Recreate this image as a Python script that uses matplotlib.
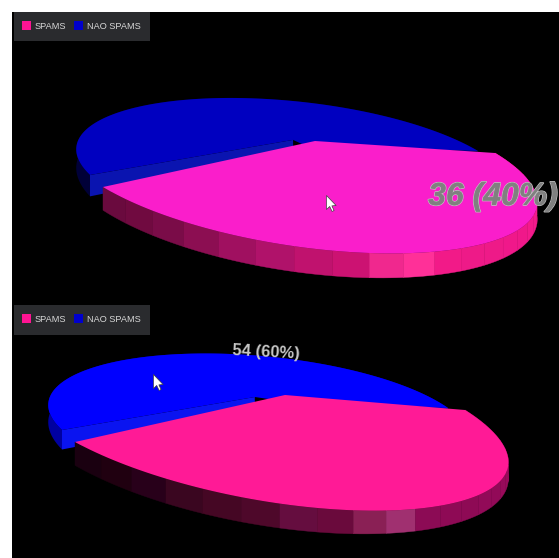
import numpy as np
import matplotlib
matplotlib.use("Agg")
import matplotlib.pyplot as plt
from matplotlib.patches import Polygon, Rectangle
from matplotlib.path import Path
import matplotlib.patheffects as pe

# Slice data
categories = ["SPAMS", "NAO SPAMS"]
spam_values = [36, 54]

# Shading of the pink rim, one entry per facet (left to right)
top_rim_shades = ["#6a0a3e", "#700a40", "#7a0c48", "#8c0e52", "#a01060", "#b0126a", "#c0126e", "#cc1272",
                  "#f0288e", "#ff3098", "#f21a88", "#ee1a88", "#ee1a88", "#f0188a", "#f0188a", "#f41a8c",
                  "#f41a8c", "#f81c8e", "#f81c8e", "#fa1c90", "#fa1c90", "#fc1c92", "#fc1c92", "#fc1c92"]
bottom_rim_shades = ["#1a0010", "#200010", "#28001a", "#3a0620", "#450724", "#4e082a", "#650d3f", "#6a0a3c",
                     "#8a2055", "#a03070", "#8c0b55", "#8e0a55", "#8e0a55", "#920a58", "#920a58", "#980a5a",
                     "#980a5a", "#a00a60", "#a00a60", "#a80c66", "#a80c66", "#ac0c68", "#ac0c68", "#ac0c68"]

RIM_FACETS = 24

# Camera of each slice: tip, left end, right end and one rim point on the canvas,
# the disk angle of the left end and the disk angle of that rim point
TOP_PINK_CAM = ((315, 141), (103, 187), (495, 153), (422.8, 252.5), -13.8, 43.8)
TOP_BLUE_CAM = ((293.1, 139.9), (90, 175), (478, 151), (238.0, 98.0), -84.8, 165.2)
BOT_PINK_CAM = ((285, 395), (75, 442), (465, 410), (404.2, 509.8), -18.0, 39.6)
BOT_BLUE_CAM = ((254.8, 397.0), (62, 430), (448, 408), (204.0, 353.5), -90.1, 159.9)


def make_camera(center, left, right, extra, start, extra_angle):
    # Homography from the unit disk of the pie to canvas pixels
    span = 360 * spam_values[0] / sum(spam_values)
    a, b, c = np.radians([start, start + span, extra_angle])
    src = [(0, 0), (np.sin(a), np.cos(a)), (np.sin(b), np.cos(b)), (np.sin(c), np.cos(c))]
    dst = [center, left, right, extra]
    A, B = [], []
    for (u, v), (x, y) in zip(src, dst):
        A.append([u, v, 1, 0, 0, 0, -u * x, -v * x])
        A.append([0, 0, 0, u, v, 1, -u * y, -v * y])
        B += [x, y]
    return np.append(np.linalg.solve(np.array(A, float), np.array(B, float)), 1).reshape(3, 3)


def project(H, u, v, thick=0.0):
    u, v = np.asarray(u, float), np.asarray(v, float)
    w = H[2, 0] * u + H[2, 1] * v + H[2, 2]
    x = (H[0, 0] * u + H[0, 1] * v + H[0, 2]) / w
    y = (H[1, 0] * u + H[1, 1] * v + H[1, 2] + thick) / w
    return np.column_stack([x, y])


def arc(t0, t1, n=80):
    t = np.radians(np.linspace(t0, t1, n))
    return np.sin(t), np.cos(t)


def draw_pie(ax, pink_cam, blue_cam, pink, blue, blue_side, blue_cut, shades, thick_pink, thick_blue):
    H_pink, H_blue = make_camera(*pink_cam), make_camera(*blue_cam)
    span = 360 * spam_values[0] / sum(spam_values)

    # blue rim and cut face
    s = blue_cam[4]
    u, v = arc(s + span, s + 360, 120)
    rim = np.vstack([project(H_blue, u, v), project(H_blue, u, v, thick_blue)[::-1]])
    ax.add_patch(Polygon(rim, closed=True, fc=blue_side, ec="none", zorder=2))
    cu, cv = np.array([0, u[-1]]), np.array([0, v[-1]])
    cut = np.vstack([project(H_blue, cu, cv), project(H_blue, cu, cv, thick_blue)[::-1]])
    ax.add_patch(Polygon(cut, closed=True, fc=blue_cut, ec="none", zorder=3))

    # blue top, closed through a point under the pink slice so no gap shows at the tip
    top = np.vstack([project(H_blue, u, v), project(H_blue, [0], [0]), project(H_pink, [0], [0.1])])
    ax.add_patch(Polygon(top, closed=True, fc=blue, ec="none", zorder=4))

    # pink rim, facet by facet
    s = pink_cam[4]
    edges = np.linspace(s, s + span, RIM_FACETS + 1)
    for i in range(RIM_FACETS):
        fu, fv = arc(edges[i], edges[i + 1], 6)
        facet = np.vstack([project(H_pink, fu, fv), project(H_pink, fu, fv, thick_pink)[::-1]])
        ax.add_patch(Polygon(facet, closed=True, fc=shades[i], ec=shades[i], lw=0.3, zorder=5))

    # pink top
    u, v = arc(s, s + span, 120)
    top = np.vstack([project(H_pink, [0], [0]), project(H_pink, u, v)])
    ax.add_patch(Polygon(top, closed=True, fc=pink, ec="none", zorder=6))


def draw_legend(ax, y0, h):
    ax.add_patch(Rectangle((14, y0), 136, h, fc="#2a2b2e", ec="none", zorder=8))
    ax.add_patch(Rectangle((22, y0 + 9), 8.5, 8.5, fc="#ff1493", ec="none", zorder=9))
    ax.add_patch(Rectangle((74, y0 + 9), 8.5, 8.5, fc="#0000cd", ec="none", zorder=9))
    ax.text(35, y0 + 14.5, categories[0], color="#d8d8d8", fontsize=6.6, family="Liberation Sans",
            va="center", zorder=9)
    ax.text(87, y0 + 14.5, categories[1], color="#d8d8d8", fontsize=6.6, family="Liberation Sans",
            va="center", zorder=9)


def label_for(i):
    return f"{spam_values[i]} ({round(100 * spam_values[i] / sum(spam_values))}%)"


fig = plt.figure(figsize=(5.59, 5.58), dpi=100, facecolor="white")
ax = fig.add_axes([0, 0, 1, 1])
ax.set_xlim(0, 559)
ax.set_ylim(558, 0)
ax.axis("off")
ax.add_patch(Rectangle((12, 12), 547, 546, fc="black", ec="none", zorder=0))

# upper pie (pink slice hovered)
draw_pie(ax, TOP_PINK_CAM, TOP_BLUE_CAM, "#fa1ecb", "#0000c0", "#000038", "#0a14b0", top_rim_shades, 15, 15)

# lower pie (blue slice hovered)
draw_pie(ax, BOT_PINK_CAM, BOT_BLUE_CAM, "#ff1a96", "#0000ff", "#0000a0", "#0a14f0", bottom_rim_shades, 15, 15)

draw_legend(ax, 12, 29)
draw_legend(ax, 305, 30)

# hover labels
ax.text(493, 197, label_for(0), fontsize=23, style="italic", weight="bold", family="Liberation Sans",
        color="#808080", ha="center", va="center", zorder=10,
        path_effects=[pe.withStroke(linewidth=1.2, foreground="#c0c0c0"),
                      pe.Normal()])
ax.text(266, 352, label_for(1), fontsize=12, weight="bold", family="Liberation Sans", color="#c8c8c8",
        ha="center", va="center", rotation=-3, zorder=10)

# mouse pointers
pointer = Path(np.array([(0, 0), (0, 14), (3.2, 11), (5.6, 16), (7.6, 15), (5.4, 10.4), (9.6, 10), (0, 0)]) * [1, -1],
               closed=True)
for px, py in [(326, 195), (153, 374)]:
    ax.plot([px], [py], marker=pointer, ms=23, mfc="white", mec="#404040", mew=0.5, zorder=11)

fig.savefig("out.png", dpi=100, facecolor="white")
